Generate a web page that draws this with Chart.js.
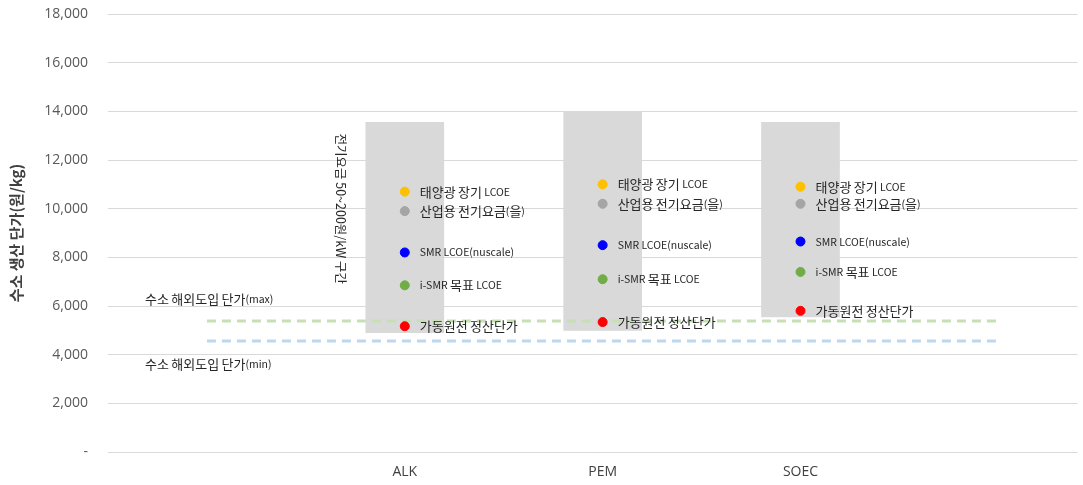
<!DOCTYPE html>
<html>
<head>
<meta charset="utf-8">
<script src="https://cdn.jsdelivr.net/npm/chart.js@4"></script>
<style>
  html, body { margin: 0; padding: 0; background: #fff; overflow: hidden; }
</style>
</head>
<body>
<canvas id="chart" width="1083" height="485"></canvas>
<script>
// 카테고리 (양 끝은 빈 칸)
const categories = ['', 'ALK', 'PEM', 'SOEC', ''];

// 전기요금 50~200원/kW 구간 (범위 막대)
const rangeLow = [4900, 5000, 5550];
const rangeHigh = [13550, 14000, 13550];

// 점 계열
const solarLcoe = [10700, 11000, 10900];
const industrialTariff = [9900, 10200, 10200];
const smrLcoe = [8200, 8500, 8650];
const ismrLcoe = [6850, 7100, 7400];
const nuclearSettlement = [5170, 5340, 5800];

// 수소 해외도입 단가
const importMax = [5380, 5380, 5380, 5380, 5380];
const importMin = [4560, 4560, 4560, 4560, 4560];

const yTicks = [0, 2000, 4000, 6000, 8000, 10000, 12000, 14000, 16000, 18000];

const FONT = '"Noto Sans CJK KR", "Noto Sans", sans-serif';
const NUM_FONT = '"Open Sans", "Noto Sans", sans-serif';

const midIdx = [1, 2, 3];

function pointSeries(label, values, color) {
    return {
        type: 'scatter',
        label: label,
        pointLabel: label,
        data: values.map((v, i) => ({ x: midIdx[i], y: v })),
        backgroundColor: color,
        borderColor: color,
        pointRadius: 4.5,
        pointHoverRadius: 4.5,
        order: 0
    };
}

function lineSeries(label, values, color) {
    return {
        type: 'line',
        label: label,
        data: values.map((v, i) => ({ x: i, y: v })),
        borderColor: color,
        borderWidth: 3,
        borderDash: [9, 6],
        pointRadius: 0,
        fill: false,
        order: 1
    };
}

// 한글과 영문을 크기 다르게 그리기
function drawMixed(ctx, text, x, y) {
    const runs = text.match(/[\uAC00-\uD7A3]+|[^\uAC00-\uD7A3]+/g) || [];
    let cx = x;
    runs.forEach(r => {
        const isKo = /[\uAC00-\uD7A3]/.test(r);
        ctx.font = (isKo ? '13px ' : '10.5px ') + FONT;
        ctx.fillText(r, cx, y);
        cx += ctx.measureText(r).width;
    });
}

const labelPlugin = {
    id: 'labelPlugin',
    afterDatasetsDraw(chart) {
        const ctx = chart.ctx;
        ctx.save();
        ctx.fillStyle = '#262626';
        ctx.textBaseline = 'middle';
        ctx.textAlign = 'left';
        chart.data.datasets.forEach((ds, di) => {
            if (!ds.pointLabel) return;
            chart.getDatasetMeta(di).data.forEach(pt => {
                drawMixed(ctx, ds.pointLabel, pt.x + 15, pt.y);
            });
        });

        // 수소 해외도입 단가 라벨
        const ys = chart.scales.y;
        const left = chart.chartArea.left + 37;
        drawMixed(ctx, '수소 해외도입 단가(max)', left, ys.getPixelForValue(importMax[0]) - 22);
        drawMixed(ctx, '수소 해외도입 단가(min)', left, ys.getPixelForValue(importMin[0]) + 23);

        // 세로 텍스트
        const bar = chart.getDatasetMeta(0).data[0];
        const bx = bar.x - bar.width / 2 - 25;
        ctx.translate(bx, ys.getPixelForValue(10000));
        ctx.rotate(Math.PI / 2);
        ctx.textAlign = 'center';
        ctx.font = '12.5px ' + FONT;
        ctx.fillText('전기요금 50~200원/kW 구간', 0, 0);
        ctx.restore();
    }
};

new Chart(document.getElementById('chart'), {
    data: {
        datasets: [
            {
                type: 'bar',
                label: '전기요금 50~200원/kW 구간',
                data: midIdx.map((x, i) => ({ x: x, y: [rangeLow[i], rangeHigh[i]] })),
                backgroundColor: '#d9d9d9',
                borderWidth: 0,
                barThickness: 78,
                order: 2
            },
            lineSeries('수소 해외도입 단가(max)', importMax, '#c5e0b4'),
            lineSeries('수소 해외도입 단가(min)', importMin, '#bdd7ee'),
            pointSeries('태양광 장기 LCOE', solarLcoe, '#ffc000'),
            pointSeries('산업용 전기요금(을)', industrialTariff, '#a5a5a5'),
            pointSeries('SMR LCOE(nuscale)', smrLcoe, '#0000ff'),
            pointSeries('i-SMR 목표 LCOE', ismrLcoe, '#70ad47'),
            pointSeries('가동원전 정산단가', nuclearSettlement, '#ff0000')
        ]
    },
    options: {
        responsive: false,
        animation: false,
        layout: { padding: { top: 1, right: 0, left: 0, bottom: 0 } },
        plugins: {
            legend: { display: false },
            tooltip: { enabled: false }
        },
        scales: {
            x: {
                type: 'linear',
                offset: false,
                min: -0.5,
                max: 4.4,
                grid: { display: false },
                border: { display: false },
                afterBuildTicks: scale => { scale.ticks = midIdx.map(v => ({ value: v })); },
                afterFit: scale => { scale.height = 33; },
                ticks: {
                    padding: 4,
                    color: '#404040',
                    font: { family: NUM_FONT, size: 14 },
                    callback: v => categories[v]
                }
            },
            y: {
                min: 0,
                max: 18000,
                afterBuildTicks: scale => { scale.ticks = yTicks.map(v => ({ value: v })); },
                afterFit: scale => { scale.width = 108; scale.paddingTop = 14; },
                grid: { color: '#d9d9d9', drawTicks: false },
                border: { display: false },
                ticks: {
                    padding: 20,
                    color: '#595959',
                    font: { family: NUM_FONT, size: 14 },
                    callback: v => v === 0 ? '-' : v.toLocaleString('en-US')
                },
                title: {
                    display: true,
                    text: '수소 생산 단가(원/kg)',
                    color: '#404040',
                    font: { family: FONT, size: 15, weight: 'bold' },
                    padding: { top: 7, bottom: 0 }
                }
            }
        }
    },
    plugins: [labelPlugin]
});
</script>
</body>
</html>
